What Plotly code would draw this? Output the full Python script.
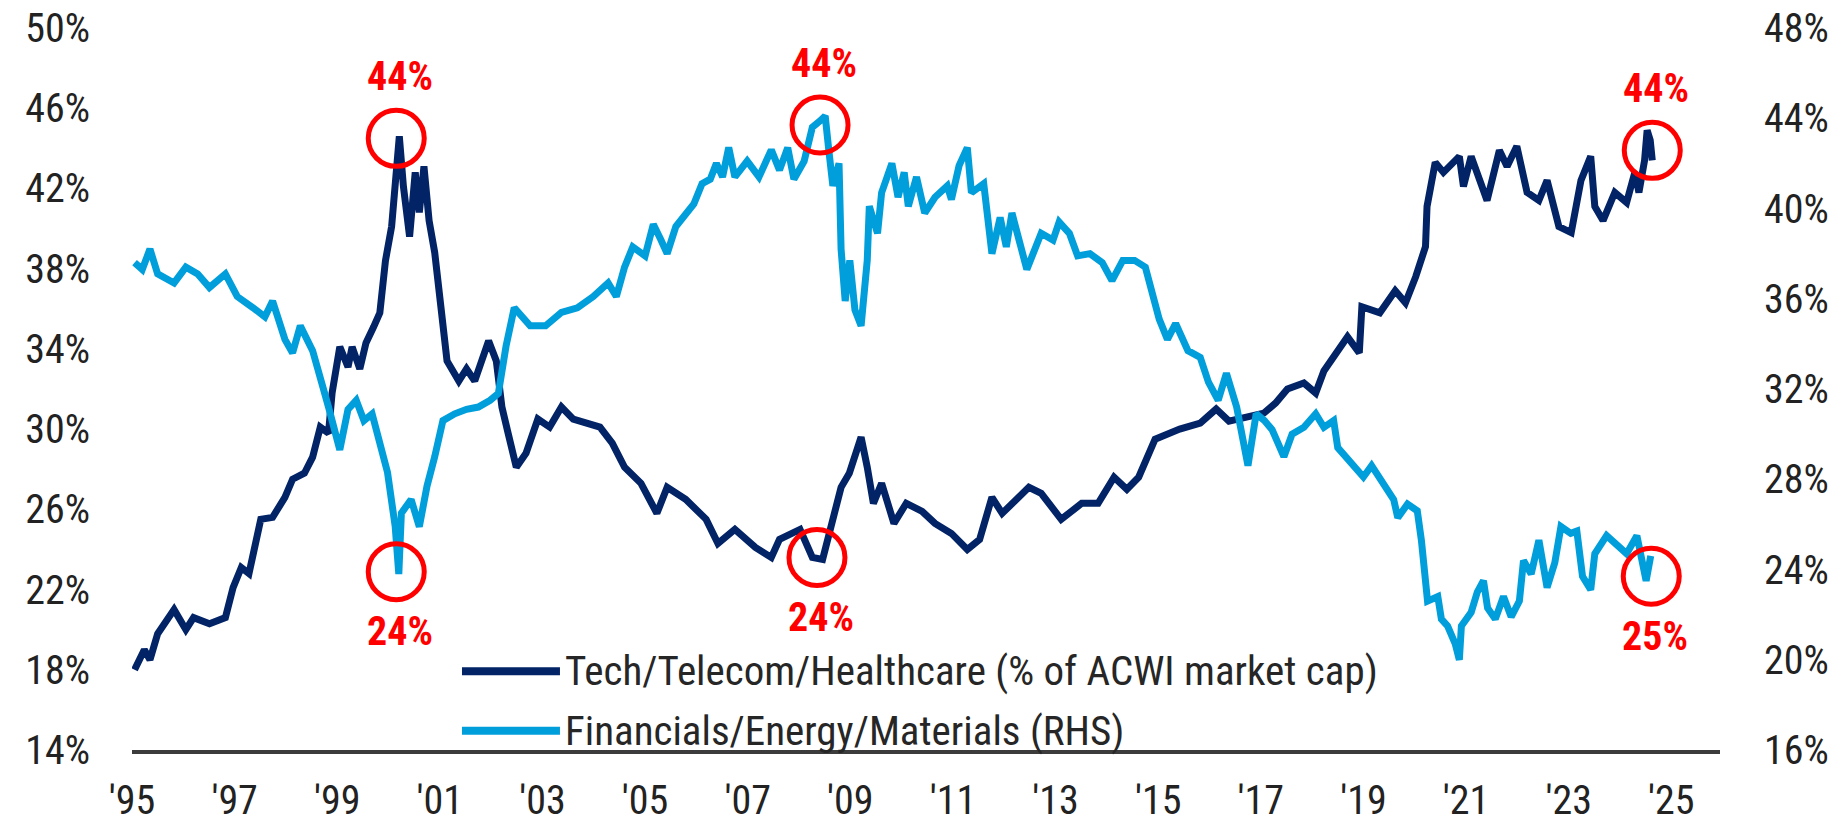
import plotly.graph_objects as go

# Tech/Telecom/Healthcare share of ACWI market cap (left axis, %)
tech_x = [1995.05, 1995.24, 1995.35, 1995.50, 1995.82, 1996.05, 1996.20, 1996.51, 1996.82, 1996.97,
          1997.13, 1997.28, 1997.51, 1997.74, 1997.98, 1998.13, 1998.36, 1998.52, 1998.67, 1998.83,
          1998.90, 1999.05, 1999.21, 1999.29, 1999.44, 1999.56, 1999.71, 1999.83, 1999.94, 2000.06,
          2000.21, 2000.29, 2000.41, 2000.52, 2000.60, 2000.69, 2000.79, 2000.90, 2001.02, 2001.14,
          2001.37, 2001.52, 2001.68, 2001.95, 2002.10, 2002.21, 2002.33, 2002.49, 2002.68, 2002.91,
          2003.14, 2003.37, 2003.60, 2003.91, 2004.12, 2004.36, 2004.60, 2004.92, 2005.23, 2005.43,
          2005.79, 2006.19, 2006.42, 2006.75, 2007.15, 2007.46, 2007.62, 2008.02, 2008.26, 2008.46,
          2008.66, 2008.82, 2008.98, 2009.21, 2009.33, 2009.45, 2009.61, 2009.85, 2010.09, 2010.40,
          2010.65, 2010.97, 2011.28, 2011.52, 2011.76, 2011.96, 2012.48, 2012.72, 2013.11, 2013.51,
          2013.83, 2014.14, 2014.39, 2014.62, 2014.94, 2015.42, 2015.82, 2016.13, 2016.38, 2016.70,
          2017.06, 2017.29, 2017.52, 2017.84, 2018.07, 2018.23, 2018.46, 2018.69, 2018.92, 2018.97,
          2019.32, 2019.62, 2019.82, 2020.02, 2020.21, 2020.24, 2020.40, 2020.56, 2020.87, 2020.95,
          2021.10, 2021.41, 2021.65, 2021.80, 2021.99, 2022.19, 2022.42, 2022.58, 2022.81, 2023.05,
          2023.24, 2023.43, 2023.51, 2023.67, 2023.90, 2024.13, 2024.29, 2024.37, 2024.48, 2024.53,
          2024.59, 2024.63]
tech_share = [18.0, 19.0, 18.5, 19.8, 21.0, 20.0, 20.6, 20.3, 20.6, 22.1,
              23.1, 22.8, 25.5, 25.6, 26.6, 27.5, 27.8, 28.6, 30.1, 29.8,
              31.8, 34.1, 33.1, 34.1, 33.0, 34.3, 35.1, 35.8, 38.4, 40.1,
              44.6, 42.1, 39.6, 42.8, 40.8, 43.1, 40.4, 38.8, 36.1, 33.4,
              32.4, 33.0, 32.4, 34.4, 33.4, 31.1, 29.8, 28.1, 28.8, 30.5,
              30.1, 31.1, 30.5, 30.3, 30.1, 29.3, 28.1, 27.3, 25.8, 27.1,
              26.5, 25.5, 24.3, 25.0, 24.1, 23.6, 24.5, 25.0, 23.6, 23.5,
              25.6, 27.1, 27.8, 29.6, 28.1, 26.3, 27.3, 25.3, 26.3, 25.9,
              25.3, 24.8, 24.0, 24.5, 26.6, 25.8, 27.1, 26.8, 25.5, 26.3,
              26.3, 27.6, 27.0, 27.6, 29.5, 30.0, 30.3, 31.0, 30.4, 30.6,
              30.8, 31.3, 32.0, 32.3, 31.8, 32.9, 33.8, 34.6, 33.8, 36.1,
              35.8, 36.9, 36.3, 37.6, 39.1, 41.1, 43.3, 42.8, 43.6, 42.1,
              43.6, 41.4, 43.9, 43.1, 44.1, 41.8, 41.4, 42.4, 40.1, 39.8,
              42.4, 43.6, 41.1, 40.4, 41.8, 41.3, 42.8, 41.8, 43.4, 44.9,
              44.4, 43.4]

# Financials/Energy/Materials (right axis, %)
fin_x = [1995.05, 1995.20, 1995.35, 1995.50, 1995.82, 1996.05, 1996.28, 1996.51, 1996.82, 1997.05,
         1997.36, 1997.59, 1997.74, 1997.98, 1998.13, 1998.28, 1998.52, 1998.74, 1998.83, 1999.05,
         1999.21, 1999.37, 1999.52, 1999.68, 1999.83, 1999.98, 2000.13, 2000.20, 2000.25, 2000.44,
         2000.60, 2000.75, 2000.90, 2001.06, 2001.29, 2001.52, 2001.75, 2001.98, 2002.14, 2002.29,
         2002.45, 2002.76, 2003.06, 2003.37, 2003.68, 2003.99, 2004.28, 2004.44, 2004.60, 2004.76,
         2005.00, 2005.16, 2005.31, 2005.43, 2005.60, 2005.79, 2005.95, 2006.11, 2006.27, 2006.39,
         2006.51, 2006.63, 2006.75, 2006.99, 2007.22, 2007.46, 2007.62, 2007.78, 2007.90, 2008.10,
         2008.26, 2008.42, 2008.51, 2008.58, 2008.66, 2008.78, 2008.82, 2008.90, 2008.99, 2009.09,
         2009.21, 2009.33, 2009.37, 2009.53, 2009.61, 2009.81, 2009.93, 2010.05, 2010.13, 2010.29,
         2010.45, 2010.65, 2010.89, 2010.97, 2011.12, 2011.28, 2011.36, 2011.60, 2011.68, 2011.76,
         2011.92, 2012.04, 2012.15, 2012.31, 2012.44, 2012.72, 2012.95, 2013.07, 2013.27, 2013.43,
         2013.67, 2013.91, 2014.10, 2014.31, 2014.54, 2014.75, 2014.90, 2015.02, 2015.18, 2015.34,
         2015.58, 2015.82, 2015.98, 2016.17, 2016.33, 2016.53, 2016.75, 2016.91, 2017.07, 2017.22,
         2017.45, 2017.61, 2017.84, 2018.07, 2018.23, 2018.42, 2018.50, 2018.77, 2019.00, 2019.16,
         2019.39, 2019.59, 2019.67, 2019.86, 2020.05, 2020.13, 2020.25, 2020.45, 2020.52, 2020.64,
         2020.79, 2020.87, 2020.91, 2021.10, 2021.22, 2021.34, 2021.42, 2021.57, 2021.73, 2021.88,
         2022.04, 2022.12, 2022.27, 2022.42, 2022.58, 2022.73, 2022.85, 2023.04, 2023.16, 2023.27,
         2023.43, 2023.51, 2023.74, 2023.98, 2024.13, 2024.33, 2024.45, 2024.51, 2024.60]
fin_share = [37.6, 37.3, 38.2, 37.1, 36.7, 37.4, 37.1, 36.5, 37.1, 36.1,
             35.6, 35.2, 35.9, 34.2, 33.6, 34.8, 33.7, 31.7, 31.2, 29.3,
             31.1, 31.5, 30.6, 30.9, 29.6, 28.3, 25.9, 23.8, 26.5, 27.1,
             25.9, 27.7, 29.0, 30.6, 30.9, 31.1, 31.2, 31.5, 31.8, 33.9,
             35.6, 34.8, 34.8, 35.4, 35.6, 36.1, 36.7, 36.1, 37.4, 38.3,
             37.9, 39.3, 38.6, 38.0, 39.2, 39.8, 40.2, 41.1, 41.3, 42.0,
             41.4, 42.7, 41.4, 42.1, 41.4, 42.6, 41.7, 42.7, 41.3, 42.1,
             43.6, 43.9, 44.1, 42.6, 41.0, 42.0, 38.2, 35.9, 37.7, 35.5,
             34.8, 37.7, 40.1, 38.9, 40.7, 42.0, 40.5, 41.6, 40.1, 41.4,
             39.8, 40.5, 41.0, 40.4, 41.9, 42.7, 40.7, 41.1, 39.6, 38.0,
             39.6, 38.3, 39.8, 38.5, 37.3, 38.9, 38.6, 39.4, 38.9, 37.9,
             38.0, 37.6, 36.8, 37.7, 37.7, 37.4, 36.2, 35.1, 34.2, 34.9,
             33.7, 33.4, 32.3, 31.5, 32.7, 31.2, 28.6, 30.9, 30.6, 30.2,
             29.0, 30.0, 30.3, 30.9, 30.3, 30.6, 29.4, 28.7, 28.1, 28.6,
             27.8, 27.1, 26.3, 26.9, 26.6, 25.3, 22.6, 22.8, 21.8, 21.5,
             20.7, 20.0, 21.5, 22.1, 23.0, 23.5, 22.3, 21.8, 22.8, 21.9,
             22.6, 24.4, 23.8, 25.3, 23.2, 24.3, 25.9, 25.6, 25.7, 23.7,
             23.1, 24.7, 25.5, 25.0, 24.7, 25.5, 24.1, 23.5, 24.6]

year_ticks = [1995, 1997, 1999, 2001, 2003, 2005, 2007, 2009, 2011, 2013, 2015, 2017, 2019, 2021, 2023, 2025]
year_labels = ["'95", "'97", "'99", "'01", "'03", "'05", "'07", "'09", "'11", "'13", "'15", "'17", "'19", "'21", "'23", "'25"]
left_ticks = [14, 18, 22, 26, 30, 34, 38, 42, 46, 50]
right_ticks = [16, 20, 24, 28, 32, 36, 40, 44, 48]

# red circled extremes
mark_x = [2000.15, 2000.15, 2008.41, 2008.35, 2024.63, 2024.61]
mark_y = [44.5, 23.9, 43.7, 23.6, 43.9, 23.7]
mark_axis = ["y", "y2", "y2", "y", "y", "y2"]
mark_text = ["44%", "24%", "44%", "24%", "44%", "25%"]
mark_above = [True, False, True, False, True, False]

names = ["Tech/Telecom/Healthcare (% of ACWI market cap)", "Financials/Energy/Materials (RHS)"]

FONT = "Roboto Condensed, Liberation Sans Narrow, Arial Narrow, sans-serif"
NAVY = "#022366"
LIGHT = "#009EDB"

fig = go.Figure()
fig.add_trace(go.Scatter(x=tech_x, y=tech_share, mode="lines", name=names[0],
                         line=dict(color=NAVY, width=7), yaxis="y"))
fig.add_trace(go.Scatter(x=fin_x, y=fin_share, mode="lines", name=names[1],
                         line=dict(color=LIGHT, width=7), yaxis="y2"))

shapes = []
annotations = []
for x, y, ax, txt, above in zip(mark_x, mark_y, mark_axis, mark_text, mark_above):
    shapes.append(dict(type="circle", xref="x", yref=ax, xsizemode="pixel", ysizemode="pixel",
                       xanchor=x, yanchor=y, x0=-28, x1=28, y0=-28, y1=28,
                       line=dict(color="#FF0000", width=5)))
    annotations.append(dict(x=x, y=y, xref="x", yref=ax, text="<b>" + txt + "</b>", showarrow=False,
                            xshift=4, yshift=62 if above else -60,
                            font=dict(family=FONT, size=40, color="#FF0000")))

# hand-drawn legend (long line samples)
for i, (nm, col) in enumerate(zip(names, [NAVY, LIGHT])):
    ly = 0.109 - i * 0.0825
    shapes.append(dict(type="line", xref="paper", yref="paper", x0=0.2078, x1=0.2695, y0=ly, y1=ly,
                       line=dict(color=col, width=8)))
    annotations.append(dict(x=0.2716, y=ly, xref="paper", yref="paper", text=nm, showarrow=False,
                            xanchor="left", yanchor="middle",
                            font=dict(family=FONT, size=41, color="#262626")))

# page body has an 8px margin, so the figure is a bit smaller than the window
fig.update_layout(
    width=1829, height=813,
    margin=dict(l=124, r=117, t=20, b=71),
    plot_bgcolor="white", paper_bgcolor="white",
    showlegend=False,
    font=dict(family=FONT, size=40, color="#222222"),
    xaxis=dict(range=[1995, 2025.95], tickvals=year_ticks, ticktext=year_labels,
               showgrid=False, zeroline=False, showline=True, linecolor="#3c3c3c", linewidth=4,
               ticks="", ticklabelstandoff=12, automargin=False, ticklabeloverflow="allow"),
    yaxis=dict(range=[14, 50], tickvals=left_ticks, ticktext=[f"{v}%" for v in left_ticks],
               showgrid=False, zeroline=False, ticks="", ticklabelstandoff=41, automargin=False,
               ticklabeloverflow="allow"),
    yaxis2=dict(range=[16, 48], tickvals=right_ticks, ticktext=[f"{v}%" for v in right_ticks],
                overlaying="y", side="right", showgrid=False, zeroline=False, ticks="",
                ticklabelstandoff=43, automargin=False, ticklabeloverflow="allow"),
    shapes=shapes,
    annotations=annotations,
)

fig.write_html("out.html")
